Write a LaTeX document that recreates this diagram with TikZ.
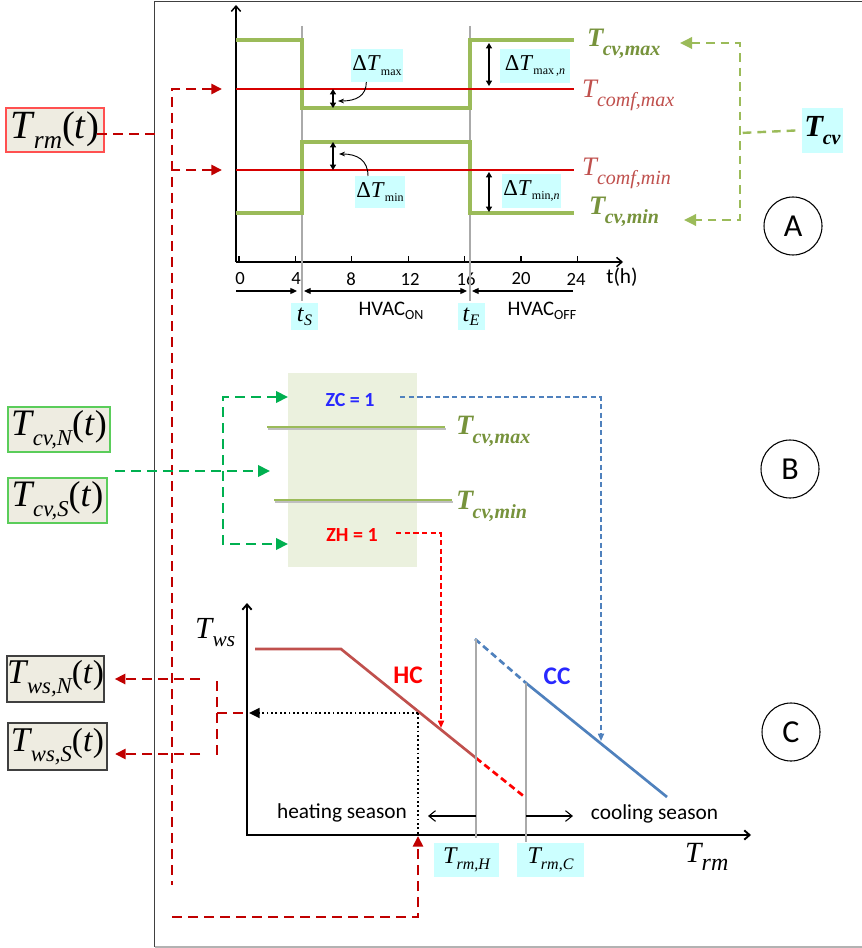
\documentclass[tikz,border=0pt]{standalone}
\usepackage{fontspec}
\setmainfont{Liberation Serif}
\setsansfont{Carlito}
\usetikzlibrary{arrows.meta}
\definecolor{gthick}{HTML}{9BBB59}
\definecolor{gtext}{HTML}{77933C}
\definecolor{comf}{HTML}{C0504D}
\definecolor{lred}{RGB}{215,0,0}
\definecolor{cyanfill}{HTML}{CCFFFF}
\definecolor{beige}{HTML}{EEECE1}
\definecolor{bfill}{HTML}{EBF1DE}
\definecolor{dgreen}{HTML}{00B050}
\definecolor{dred}{HTML}{C00000}
\definecolor{dblue}{HTML}{4F81BD}
\definecolor{zblue}{RGB}{40,40,255}
\definecolor{zred}{RGB}{255,0,0}
\definecolor{lgrey}{RGB}{170,170,170}
\definecolor{boxgreen}{RGB}{90,205,90}
\definecolor{boxred}{RGB}{255,80,80}
\newcommand{\fsz}[1]{\fontsize{#1}{#1}\selectfont}
\newcommand{\TSub}[4]{{\fsz{#1}\itshape T\/}\kern-1pt\raisebox{-#3}{\fsz{#2}\itshape #4}}
\begin{document}
\begin{tikzpicture}[x=0.75pt,y=-0.75pt,
  every node/.style={inner sep=0pt,outer sep=0pt},
  cybox/.style={fill=cyanfill},
  bgbox/.style={fill=beige,draw,line width=0.9pt},
  reddash/.style={dred,line width=2.1pt,dash pattern=on 7.5pt off 4.5pt},
  greendash/.style={dgreen,line width=2.1pt,dash pattern=on 7.5pt off 4.5pt},
  lgdash/.style={gthick,line width=1.8pt,dash pattern=on 6.5pt off 4.5pt},
  bluedash/.style={dblue,line width=1.2pt,dash pattern=on 4pt off 2.5pt},
  zreddash/.style={zred,line width=1.2pt,dash pattern=on 4pt off 2.5pt},
  dimarr/.style={line width=0.9pt,{Triangle[length=4pt,width=4.5pt]}-{Triangle[length=4pt,width=4.5pt]}},
  tline/.style={line width=0.9pt},
  axisline/.style={line width=1.1pt},
  ticklbl/.style={font=\sffamily\fsz{14pt}},
  circlbl/.style={circle,draw,line width=0.8pt,minimum size=43.5pt,font=\sffamily\fsz{24pt}},
  BT/.tip={Triangle[length=8pt,width=7.5pt]},
  GT/.tip={Triangle[length=9pt,width=8.5pt]},
  ST/.tip={Triangle[length=5.5pt,width=4.5pt]},
  TT/.tip={Triangle[length=5pt,width=4.5pt]},
  OB/.tip={Straight Barb[length=4pt,width=7pt]}
]
\useasboundingbox (0,0) rectangle (862,948);
\fill[white] (0,0) rectangle (862,948);
% frame
\draw[black!75,line width=1pt] (862,1.5) -- (154.5,1.5) -- (154.5,947);
\draw[black!30,line width=1pt] (154.5,947) -- (862,947);

% ================= Panel A =================
\draw[axisline,-OB] (236,262) -- (236,5);
\draw[axisline,-OB] (236,262) -- (623,262);
\foreach \x in {239,295.4,351.8,408.2,464.6,521,577.4} \draw[line width=0.8pt] (\x,262) -- (\x,256);
\node[ticklbl] (k0) at (240,279) {0};
\node[ticklbl] (k4) at (296,279) {4};
\node[ticklbl] (k8) at (351,279) {8};
\node[ticklbl] (k12) at (410,279) {12};
\node[ticklbl] (k16) at (466,279) {16};
\node[ticklbl] (k20) at (521,279) {20};
\node[ticklbl] (k24) at (576,279) {24};
\node[font=\sffamily\fsz{16pt}] (th) at (622,277) {t(h)};

\draw[lgrey,line width=1.5pt] (302,26) -- (302,301);
\draw[lgrey,line width=1.5pt] (470,26) -- (470,301);

\draw[gthick,line width=2.6pt] (236,40) -- (302,40) -- (302,108) -- (470,108) -- (470,40) -- (574,40);
\draw[gthick,line width=2.6pt] (236,213) -- (302,213) -- (302,142) -- (470,142) -- (470,213) -- (574,213);
\draw[lred,line width=1.1pt] (236,89) -- (574,89);
\draw[lred,line width=1.1pt] (236,170) -- (574,170);

\draw[dimarr] (333,89) -- (333,108);
\draw[dimarr] (333,142) -- (333,170);
\draw[dimarr] (489,43) -- (489,86);
\draw[dimarr] (489,172) -- (489,212);

\node[cybox,minimum width=39pt,minimum height=24.75pt] (dTmax) at (377,65.5)
  {{\fsz{17pt}Δ\textit{T}}\raisebox{-3.5pt}{\fsz{9pt}max}};
\node[cybox,minimum width=37.5pt,minimum height=24pt] (dTmin) at (380,192)
  {{\fsz{17pt}Δ\textit{T}}\raisebox{-3.5pt}{\fsz{9pt}min}};
\node[cybox,minimum width=52.5pt,minimum height=25.5pt] (dTmaxn) at (535,66)
  {{\fsz{17pt}Δ\textit{T}}\raisebox{-3.5pt}{\fsz{9pt}max\,,\textit{n}}};
\node[cybox,minimum width=44.25pt,minimum height=25.5pt] (dTminn) at (531.5,191)
  {{\fsz{17pt}Δ\textit{T}}\raisebox{-3.5pt}{\fsz{9pt}min,\textit{n}}};
\coordinate (cmax) at (338,101);
\coordinate (cmin) at (339,154);
\draw[line width=0.7pt,-{Stealth[length=4.5pt,width=3.5pt]}] ([xshift=-8pt]dTmax.south) .. controls +(0,14) and +(18,0) .. (cmax);
\draw[line width=0.7pt,-{Stealth[length=4.5pt,width=3.5pt]}] ([xshift=-9pt]dTmin.north) .. controls +(0,-16) and +(18,0) .. (cmin);

\node[anchor=base west,text=gtext] (Tcvmax) at (587,47) {\bfseries\TSub{20pt}{15pt}{6.5pt}{cv,max}};
\node[anchor=base west,text=comf] (Tcomfmax) at (582,98) {\TSub{20pt}{15pt}{6.5pt}{comf,max}};
\node[anchor=base west,text=comf] (Tcomfmin) at (582,176) {\TSub{20pt}{15pt}{6.5pt}{comf,min}};
\node[anchor=base west,text=gtext] (Tcvmin) at (589,215) {\bfseries\TSub{20pt}{15pt}{6.5pt}{cv,min}};

\node[cybox,minimum width=30.75pt,minimum height=33.75pt] (Tcv) at (822.5,130.5) {\bfseries\TSub{23pt}{15pt}{6pt}{cv}};
\coordinate (gA) at (740,133);
\coordinate (gB) at (740,43);
\coordinate (gC) at (740,220);
\coordinate (gtmax) at (680,43);
\coordinate (gtmin) at (684,220);
\draw[lgdash] ([xshift=-5pt]Tcv.west) -- (gA);
\draw[lgdash,GT-GT] (gtmax) -- (gB) -- (gC) -- (gtmin);

\node[circlbl] (cA) at (793,226) {A};

\coordinate (a1) at (236,291);
\coordinate (a2) at (297,291);
\coordinate (a3) at (304,291);
\coordinate (a4) at (467,291);
\coordinate (a5) at (472,291);
\coordinate (a6) at (573,291);
\draw[tline,-TT] (a1) -- (a2);
\draw[tline,TT-TT] (a3) -- (a4);
\draw[tline,TT-] (a5) -- (a6);

\node[cybox,minimum width=20.25pt,minimum height=20.25pt] (tS) at (304.5,316.5) {\fsz{18pt}\textit{t}\raisebox{-3pt}{\fsz{12pt}\textit{S}}};
\node[cybox,minimum width=20.25pt,minimum height=20.25pt] (tE) at (471,316.5) {\fsz{18pt}\textit{t}\raisebox{-3pt}{\fsz{12pt}\textit{E}}};
\node[font=\sffamily\fsz{15.5pt}] (hon) at (391,311) {HVAC\raisebox{-3pt}{\fsz{10.5pt}ON}};
\node[font=\sffamily\fsz{15.5pt}] (hoff) at (542,311) {HVAC\raisebox{-3pt}{\fsz{10.5pt}OFF}};

% Trm(t)
\node[bgbox,draw=boxred,minimum width=73.5pt,minimum height=33pt] (Trm) at (55,130) {\TSub{30pt}{19pt}{8pt}{rm}{\fsz{29pt}(\textit{t})}};
\coordinate (rA) at (155,134);
\draw[reddash,shorten <=-5pt] (Trm.east |- rA) -- (rA);
\coordinate (rB1) at (172,89);
\coordinate (rT1) at (222,89);
\coordinate (rB2) at (172,170);
\coordinate (rT2) at (222,170);
\coordinate (rBot) at (172,885);
\draw[reddash,BT-] (rT1) -- (rB1) -- (rBot);
\draw[reddash,BT-] (rT2) -- (rB2);
\coordinate (rC1) at (172,917);
\coordinate (rC2) at (418,917);
\coordinate (rC3) at (418,836);
\draw[reddash,-BT] (rC1) -- (rC2) -- (rC3);

% ================= Panel B =================
\node[fill=bfill,minimum width=96.75pt,minimum height=145.5pt] (Bbox) at (352.5,470) {};
\draw[black!25,line width=2.2pt] (268,429) -- (446,429);
\draw[gthick,line width=2.2pt] (267,427) -- (445,427);
\draw[black!25,line width=2.2pt] (275,502) -- (453,502);
\draw[gthick,line width=2.2pt] (274,500) -- (452,500);
\node[anchor=base west,text=gtext] (BTcvmax) at (456,434) {\bfseries\TSub{21pt}{15pt}{7pt}{cv,max}};
\node[anchor=base west,text=gtext] (BTcvmin) at (456,509) {\bfseries\TSub{21pt}{15pt}{7pt}{cv,min}};
\node[font=\sffamily\bfseries\fsz{15pt},text=zblue] (ZC) at (350,400) {ZC = 1};
\node[font=\sffamily\bfseries\fsz{15pt},text=zred] (ZH) at (352,535) {ZH = 1};

\node[bgbox,draw=boxgreen,minimum width=76.5pt,minimum height=33.75pt] (TcvN) at (59,429.5) {\TSub{28pt}{17pt}{7.5pt}{cv,N}{\fsz{27pt}(\textit{t})}};
\node[bgbox,draw=boxgreen,minimum width=74.25pt,minimum height=33.75pt] (TcvS) at (57.5,500.5) {\TSub{28pt}{17pt}{7.5pt}{cv,S}{\fsz{27pt}(\textit{t})}};

\coordinate (gs) at (115,471);
\coordinate (gm) at (270,471);
\draw[greendash,-GT] (gs) -- (gm);
\coordinate (gv1) at (223,397);
\coordinate (gv2) at (223,544);
\coordinate (gt1) at (288,397);
\coordinate (gt2) at (288,544);
\draw[greendash,GT-GT] (gt1) -- (gv1) -- (gv2) -- (gt2);

\coordinate (bz0) at (400,397);
\coordinate (bz1) at (601,397);
\coordinate (bz2) at (601,741);
\draw[bluedash,-ST] (bz0) -- (bz1) -- (bz2);
\coordinate (zh0) at (396,533);
\coordinate (zh1) at (441,533);
\coordinate (zh2) at (441,728);
\draw[zreddash,-ST] (zh0) -- (zh1) -- (zh2);

\node[circlbl] (cB) at (790,469) {B};

% ================= Panel C =================
\coordinate (cy) at (247,603);
\coordinate (co) at (247,835);
\coordinate (cx) at (751,835);
\draw[line width=1.4pt,OB-OB] (cy) -- (co) -- (cx);

\draw[comf,line width=2pt] (255,649) -- (341,649) -- (476,758);
\draw[zred,line width=2pt,dash pattern=on 5pt off 3pt] (476,758) -- (526,798);
\draw[dblue,line width=2pt,dash pattern=on 5pt off 3pt] (475,639) -- (526,683);
\draw[dblue,line width=2pt] (526,683) -- (667,797);
\draw[lgrey,line width=1.5pt] (476,639) -- (476,838);
\draw[lgrey,line width=1.5pt] (526,683) -- (526,842);

\coordinate (dp) at (418,713);
\coordinate (dl) at (249,713);
\coordinate (db) at (418,835);
\draw[line width=1.3pt,dotted,-{Triangle[length=8pt,width=7.5pt]}] (dp) -- (dl);
\draw[line width=1.3pt,dotted] (dp) -- (db);

\node[anchor=base west] (Tws) at (195,638) {\TSub{23pt}{16pt}{6.5pt}{ws}};
\node[anchor=base west] (Trmax) at (685,862) {\TSub{22pt}{18pt}{6pt}{rm}};
\node[font=\sffamily\bfseries\fsz{19pt},text=zred] (HC) at (408,675) {HC};
\node[font=\sffamily\bfseries\fsz{19pt},text=zblue] (CC) at (557,676) {CC};

\node[cybox,minimum width=48.75pt,minimum height=25.5pt] (TrmH) at (466.5,860) {\TSub{18pt}{12pt}{4.5pt}{rm,H}};
\node[cybox,minimum width=50.25pt,minimum height=25.5pt] (TrmC) at (550.5,860) {\TSub{18pt}{12pt}{4.5pt}{rm,C}};

\coordinate (s1) at (476,816);
\coordinate (s2) at (428,816);
\coordinate (s3) at (526,816);
\coordinate (s4) at (573,816);
\draw[line width=0.8pt,-{Straight Barb[length=5pt,width=8pt]}] (s1) -- (s2);
\draw[line width=0.8pt,-{Straight Barb[length=5pt,width=8pt]}] (s3) -- (s4);
\node[font=\sffamily\fsz{16pt}] (heat) at (342,813) {heating season};
\node[font=\sffamily\fsz{16pt}] (cool) at (654.5,814) {cooling season};

\node[bgbox,draw=black!75,minimum width=72.75pt,minimum height=34.5pt] (TwsN) at (55.5,679) {\TSub{26pt}{17pt}{7.5pt}{ws,N}{\fsz{25pt}(\textit{t})}};
\node[bgbox,draw=black!75,minimum width=74.25pt,minimum height=35.25pt] (TwsS) at (57.5,746.5) {\TSub{26pt}{17pt}{7.5pt}{ws,S}{\fsz{25pt}(\textit{t})}};
\coordinate (o1) at (200,679);
\coordinate (o2) at (200,754);
\draw[reddash,-BT,shorten >=8pt] (o1) -- (TwsN.east |- o1);
\draw[reddash,-BT,shorten >=6pt] (o2) -- (TwsS.east |- o2);
\coordinate (v1) at (217,681);
\coordinate (v2) at (217,757);
\coordinate (vm) at (217,713);
\draw[reddash] (v1) -- (v2);
\draw[reddash] (vm) -- (co |- vm);

\node[circlbl] (cC) at (791,732) {C};
\end{tikzpicture}
\end{document}
